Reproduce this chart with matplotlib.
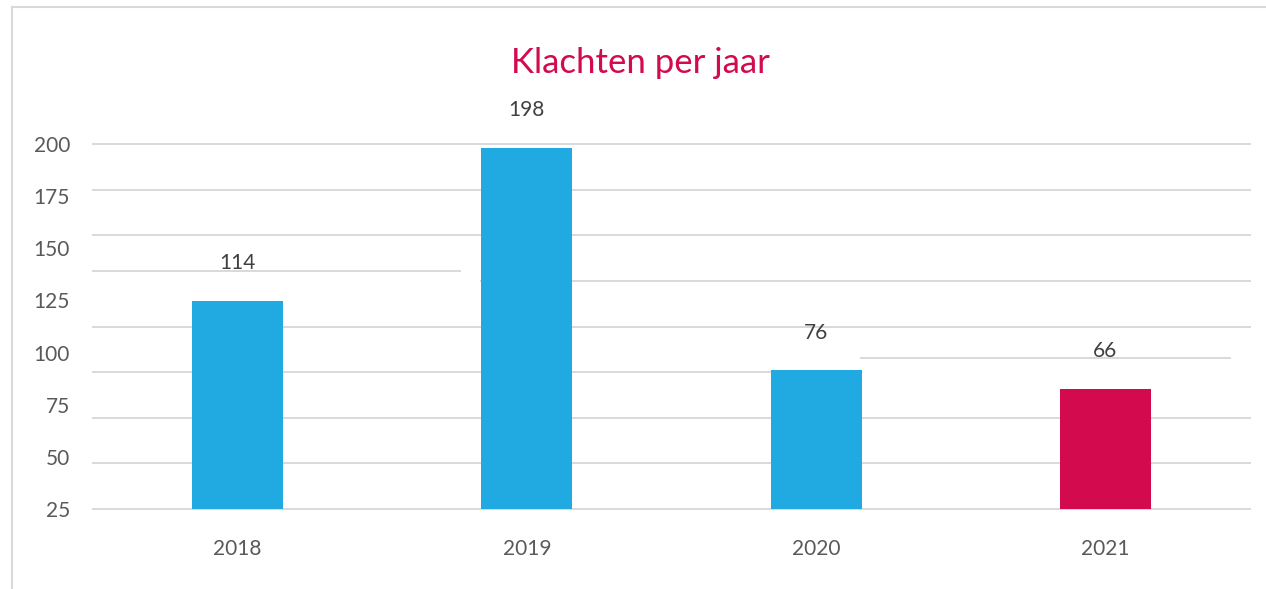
import numpy as np
import matplotlib.pyplot as plt
from matplotlib.lines import Line2D

plt.rcParams['font.family'] = ['Lato', 'DejaVu Sans']

# data
years = ['2018', '2019', '2020', '2021']
complaints = [114, 198, 76, 66]
bar_colors = ['#21A9E1', '#21A9E1', '#21A9E1', '#D30A4E']
ytick_labels = ['25', '50', '75', '100', '125', '150', '175', '200']
grid_values = [0, 25, 50, 75, 100, 125, 150, 175, 200]

fig = plt.figure(figsize=(12.66, 5.89), dpi=100)
ax = fig.add_axes([93 / 1266, 80 / 589, 1157 / 1266, 365 / 589])

x = np.arange(len(years))
bars = ax.bar(x, complaints, width=0.315, color=bar_colors, zorder=3)

ax.set_xlim(-0.5, 3.5)
ax.set_ylim(0, 200)

# gridlines (the picture has two of them shifted / partly missing)
grid_kw = dict(color='#D9D9D9', linewidth=1.4, zorder=1, clip_on=False)
for g in grid_values:
    if g == 125:
        ax.axhline(g, xmin=0.335, xmax=1, **grid_kw)
        ax.axhline(130.4, xmin=0, xmax=0.317, **grid_kw)
    elif g == 75:
        ax.axhline(g, xmin=0, xmax=0.664, **grid_kw)
        ax.axhline(82.7, xmin=0.664, xmax=0.983, **grid_kw)
    else:
        ax.axhline(g, **grid_kw)

# y labels are spread evenly over the axis, as in the picture
ax.set_yticks(np.linspace(0, 200, len(ytick_labels)))
ax.set_yticklabels(ytick_labels)
ax.set_xticks(x)
ax.set_xticklabels(years)
ax.tick_params(axis='y', length=0, pad=16.5, labelsize=15, labelcolor='#595959')
ax.tick_params(axis='x', length=0, pad=21.5, labelsize=15, labelcolor='#595959')
for s in ax.spines.values():
    s.set_visible(False)

for b, v in zip(bars, complaints):
    ax.annotate(str(v), (b.get_x() + b.get_width() / 2, v), xytext=(0, 27),
                textcoords='offset points', ha='center', va='center',
                fontsize=15, color='#404040', annotation_clip=False)

fig.text(640 / 1266, 1 - 63 / 589, 'Klachten per jaar', ha='center', va='center',
         fontsize=25, color='#D20A50')

# light frame on the left and top
fig.add_artist(Line2D([12 / 1266, 12 / 1266], [0, 1 - 7 / 589], transform=fig.transFigure,
                      color='#D9D9D9', linewidth=1.5))
fig.add_artist(Line2D([12 / 1266, 1], [1 - 7 / 589, 1 - 7 / 589], transform=fig.transFigure,
                      color='#D9D9D9', linewidth=1.5))

fig.savefig('out.png', dpi=100)
